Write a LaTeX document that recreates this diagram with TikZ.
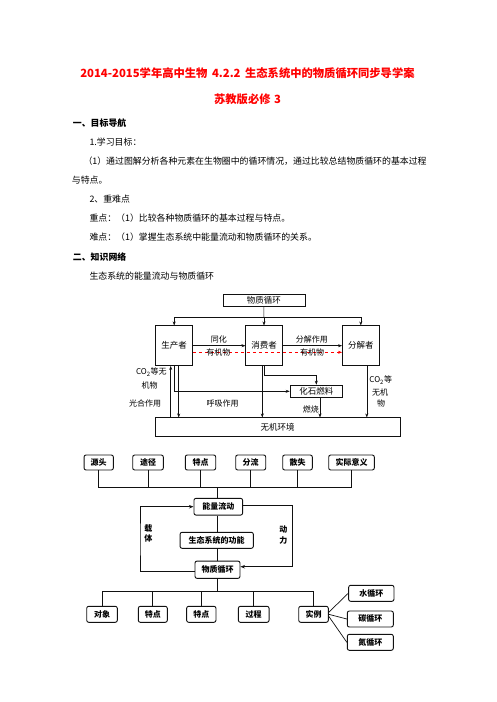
\documentclass[tikz,border=0pt]{standalone}
\usepackage{fontspec}
\setmainfont{Noto Sans CJK SC}
\usetikzlibrary{arrows.meta}
\definecolor{titlered}{HTML}{FF0000}
\definecolor{ink}{HTML}{111111}
\tikzset{
  bodytext/.style={anchor=west,inner sep=0pt,font=\fontsize{8.9}{10}\selectfont},
  headtext/.style={anchor=west,inner sep=0pt,font=\fontsize{8.9}{10}\selectfont\bfseries},
  titletext/.style={inner sep=0pt,text=titlered,font=\fontsize{11.3}{13}\selectfont\bfseries},
  cyclebox/.style={
    draw=ink,
    line width=0.5pt,
    inner sep=0pt,
    font=\fontsize{8.5}{10}\selectfont
  },
  cyclelabel/.style={inner sep=0pt,font=\fontsize{8}{9.5}\selectfont},
  netbox/.style={
    draw=ink,
    line width=0.9pt,
    rounded corners=2pt,
    inner sep=0pt,
    minimum height=16pt,
    font=\fontsize{8}{10}\selectfont\bfseries
  },
  netlabel/.style={inner sep=0pt,align=center,font=\fontsize{8}{10.5}\selectfont\bfseries},
  netline/.style={draw=ink,line width=0.7pt},
  cyclearrow/.style={-{Stealth[length=4pt,width=3pt]},line width=0.5pt,draw=ink},
  netarrow/.style={-{Stealth[length=4.5pt,width=3.5pt]},netline}
}
\begin{document}
\begin{tikzpicture}[x=1pt,y=-1pt]
\fill[white] (0,0) rectangle (496,702);
\useasboundingbox (0,0) rectangle (496,702);
\node[titletext] (title) at (247.5,73.3) {2014-2015学年高中生物\hspace{0.4em}4.2.2\hspace{0.4em}生态系统中的物质循环同步导学案};
\node[titletext] (subtitle) at (247.5,99.3) {苏教版必修\hspace{0.3em}3};
\node[headtext] (headone) at (72.7,123.3) {一、目标导航};
\node[bodytext] (goal) at (89.3,142.3) {1.学习目标：};
\node[bodytext] (goalone) at (83.3,161) {（1）通过图解分析各种元素在生物圈中的循环情况，通过比较总结物质循环的基本过程};
\node[bodytext] (goaltwo) at (71.7,180) {与特点。};
\node[bodytext] (keys) at (89.3,199.3) {2、重难点};
\node[bodytext] (keyone) at (89.3,218.3) {重点：（1）比较各种物质循环的基本过程与特点。};
\node[bodytext] (keytwo) at (89.3,237.3) {难点：（1）掌握生态系统中能量流动和物质循环的关系。};
\node[headtext] (headtwo) at (72.7,256.7) {二、知识网络};
\node[bodytext] (caption) at (89.3,275.7) {生态系统的能量流动与物质循环};

\node[cyclebox,minimum width=82pt,minimum height=12.4pt] (cycle) at (263.9,300.5) {物质循环};
\node[cyclebox,minimum width=37pt,minimum height=40pt] (prod) at (174.2,345.7) {生产者};
\node[cyclebox,minimum width=36.6pt,minimum height=40pt] (cons) at (264,345.7) {消费者};
\node[cyclebox,minimum width=37pt,minimum height=40pt] (deco) at (360.8,345.7) {分解者};
\node[cyclebox,minimum width=52.7pt,minimum height=12.7pt] (fossil) at (316.3,391.3) {化石燃料};
\node[cyclebox,minimum width=245pt,minimum height=19pt] (env) at (277.5,427.2) {无机环境};
\coordinate (bus) at (264,317.3);
\coordinate (fork) at (264.7,375);
\draw[line width=0.5pt,draw=ink] (cycle) -- (bus);
\draw[line width=0.5pt,draw=ink] (prod.north |- bus) -- (deco.north |- bus);
\foreach \who in {prod,cons,deco}
  \draw[cyclearrow] (\who.north |- bus) -- (\who.north);
\draw[cyclearrow] (prod) -- (cons);
\draw[cyclearrow] (cons) -- (deco);
\draw[-{Stealth[length=4pt,width=3pt]},line width=0.5pt,draw=titlered,dashed] ([yshift=-6.6pt]prod.east) -- ([yshift=-6.6pt]deco.west);
\draw[cyclearrow] ([xshift=-3.5pt]prod.south |- env.north) -- ([xshift=-3.5pt]prod.south);
\draw[cyclearrow] ([xshift=4.5pt]prod.south) -- ([xshift=4.5pt]prod.south |- env.north);
\draw[cyclearrow] (prod.south) |- (fossil.west);
\draw[cyclearrow] ([xshift=-1.7pt]cons.south) -- ([xshift=-1.7pt]cons.south |- env.north);
\draw[cyclearrow] (cons.south -| fork) -- (fork) -| (fossil.north);
\draw[cyclearrow] ([xshift=3.7pt]fossil.south) -- ([xshift=3.7pt]fossil.south |- env.north);
\draw[cyclearrow] ([xshift=6pt]deco.south) -- ([xshift=6pt]deco.south |- env.north);
\node[cyclelabel] (assim) at (218.8,339) {同化};
\node[cyclelabel] (orgone) at (218.4,352.7) {有机物};
\node[cyclelabel] (decomp) at (311.8,339) {分解作用};
\node[cyclelabel] (orgtwo) at (312,352.7) {有机物};
\node[cyclelabel] (coone) at (151.4,372.3) {CO\textsubscript{2}等无};
\node[cyclelabel] (cotwo) at (149.7,385) {机物};
\node[cyclelabel] (photo) at (145,403.3) {光合作用};
\node[cyclelabel] (resp) at (222.7,403.3) {呼吸作用};
\node[cyclelabel] (burn) at (310.9,409) {燃烧};
\node[cyclelabel] (cothree) at (380.7,380) {CO\textsubscript{2}等};
\node[cyclelabel] (cofour) at (380,392.7) {无机};
\node[cyclelabel] (cofive) at (381.2,403.3) {物};

\node[netbox,minimum width=29.3pt,minimum height=15pt] (source) at (98.7,462.5) {源头};
\node[netbox,minimum width=30.6pt,minimum height=15pt] (route) at (148,462.5) {途径};
\node[netbox,minimum width=30.4pt,minimum height=15pt] (trait) at (200.5,462.5) {特点};
\node[netbox,minimum width=30pt,minimum height=15pt] (split) at (250.7,462.5) {分流};
\node[netbox,minimum width=29.6pt,minimum height=15pt] (loss) at (297.5,462.5) {散失};
\node[netbox,minimum width=45.6pt,minimum height=15pt] (meaning) at (351.5,462.5) {实际意义};
\coordinate (topbus) at (217.3,487.7);
\foreach \who in {source,route,trait,split,loss,meaning}
  \draw[netline] (\who.south) -- (\who.south |- topbus);
\draw[netline] (source.south |- topbus) -- (meaning.south |- topbus);

\node[netbox,minimum width=48.7pt,minimum height=16.7pt] (energy) at (218.3,506.7) {能量流动};
\node[netbox,minimum width=73.3pt,minimum height=16pt] (func) at (216.7,540.3) {生态系统的功能};
\node[netbox,minimum width=45pt,minimum height=17.3pt] (matter) at (217.5,569.7) {物质循环};
\draw[netline] (topbus) -- (topbus |- energy.north);
\draw[netline] (energy.south -| topbus) -- (func.north -| topbus);
\draw[netline] (func.south -| topbus) -- (matter.north -| topbus);
\coordinate (leftloop) at (140,540);
\coordinate (rightloop) at (292.3,540);
\draw[netarrow] ([yshift=-1.3pt]matter.west) -| (leftloop) |- (energy.west);
\draw[netarrow] ([yshift=1.7pt]energy.east) -| (rightloop) |- ([yshift=3pt]matter.east);
\node[netlabel] (carrier) at (148.3,533.5) {载\\体};
\node[netlabel] (drive) at (283.3,535) {动\\力};

\coordinate (lowbus) at (217.3,591.7);
\node[netbox,minimum width=30.6pt] (object) at (102,614.3) {对象};
\node[netbox,minimum width=29pt] (traita) at (152.8,614.3) {特点};
\node[netbox,minimum width=29.3pt] (traitb) at (201.3,614.3) {特点};
\node[netbox,minimum width=30.7pt] (process) at (253.7,614.3) {过程};
\node[netbox,minimum width=29.6pt] (example) at (313.5,614.3) {实例};
\draw[netline] (matter.south -| lowbus) -- (lowbus);
\draw[netline] (object.north |- lowbus) -- (example.north |- lowbus);
\foreach \who in {object,traita,traitb,process,example}
  \draw[netline] (\who.north |- lowbus) -- (\who.north);
\node[netbox,minimum width=45.3pt] (water) at (371.3,593.3) {水循环};
\node[netbox,minimum width=46pt] (carbon) at (370.3,619) {碳循环};
\node[netbox,minimum width=46pt] (nitrogen) at (370.3,642.3) {氮循环};
\draw[netline] ([yshift=2pt]example.east) -- (water.west);
\draw[netline] (example.east) -- (carbon.west);
\draw[netline] ([yshift=-2pt]example.east) -- (nitrogen.west);
\end{tikzpicture}
\end{document}
